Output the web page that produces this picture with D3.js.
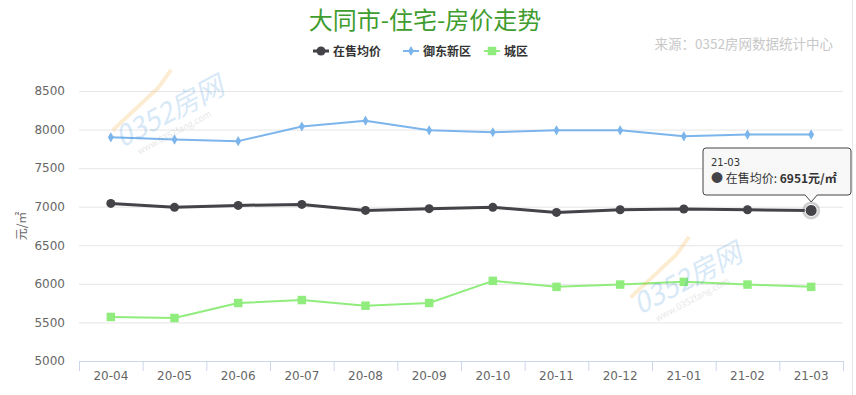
<!DOCTYPE html>
<html>
<head>
<meta charset="utf-8">
<script src="https://cdn.jsdelivr.net/npm/d3@7/dist/d3.min.js"></script>
<style>
  body { margin: 0; background: #fff; font-family: "Noto Sans CJK SC", "DejaVu Sans", sans-serif; }
  svg { display: block; }
</style>
</head>
<body>
<svg id="chart" width="856" height="395"></svg>
<script>
const months = ['20-04', '20-05', '20-06', '20-07', '20-08', '20-09', '20-10', '20-11', '20-12', '21-01', '21-02', '21-03'];
const avgPrice = [7043, 6992, 7017, 7030, 6952, 6975, 6992, 6926, 6960, 6970, 6961, 6951];
const yudongPrice = [7900, 7870, 7850, 8040, 8115, 7990, 7965, 7990, 7990, 7913, 7935, 7935];
const cityPrice = [5571, 5557, 5752, 5790, 5717, 5752, 6039, 5961, 5991, 6026, 5991, 5961];
const yTicks = [5000, 5500, 6000, 6500, 7000, 7500, 8000, 8500];

const series = [
  { name: '在售均价', values: avgPrice, color: '#434348', width: 3, symbol: 'circle' },
  { name: '御东新区', values: yudongPrice, color: '#7cb5ec', width: 2, symbol: 'diamond' },
  { name: '城区', values: cityPrice, color: '#90ed7d', width: 2, symbol: 'square' }
];

const margin = { top: 91, right: 13, bottom: 34, left: 79 };
const W = 856, H = 395;
const width = W - margin.left - margin.right;
const height = H - margin.top - margin.bottom;

const svg = d3.select('#chart');

// border on the right
svg.append('line')
  .attr('x1', 852.5).attr('x2', 852.5).attr('y1', 0).attr('y2', H)
  .attr('stroke', '#e6e6e6');

// title
svg.append('text')
  .attr('x', 425).attr('y', 29)
  .attr('text-anchor', 'middle')
  .attr('font-size', 24)
  .attr('fill', '#3f9d30')
  .text('大同市-住宅-房价走势');

svg.append('text')
  .attr('x', 833).attr('y', 49)
  .attr('text-anchor', 'end')
  .attr('font-size', 13.5)
  .attr('fill', '#c8c8c8')
  .text('来源：0352房网数据统计中心');

const g = svg.append('g').attr('transform', `translate(${margin.left},${margin.top})`);

const x = d3.scaleBand().domain(months).range([0, width]);
const y = d3.scaleLinear().domain([5000, 8500]).range([height, 0]);
const cx = (d) => x(d) + x.bandwidth() / 2;

// watermarks
const wm = [[122, 148], [640, 315]];
wm.forEach(([wx, wy]) => {
  const w = svg.append('g').attr('transform', `translate(${wx},${wy}) rotate(-28)`).attr('opacity', 0.2);
  w.append('text').attr('font-size', 28).attr('font-style', 'italic').attr('fill', '#3b8fd8').text('0352房网');
  w.append('text').attr('y', 14).attr('x', 12).attr('font-size', 9).attr('fill', '#888').text('www.0352fang.com');
  w.append('path').attr('d', 'M0,-20 L60,-36 L80,-46').attr('fill', 'none').attr('stroke', '#f5a623').attr('stroke-width', 4);
});

// grid
g.append('g')
  .call(d3.axisLeft(y).tickValues(yTicks).tickSize(-width).tickFormat(''))
  .call((s) => s.select('.domain').remove())
  .call((s) => s.selectAll('line').attr('stroke', '#e6e6e6'));

// y labels
g.append('g')
  .call(d3.axisLeft(y).tickValues(yTicks).tickSize(0).tickPadding(14).tickFormat(d3.format('d')))
  .call((s) => s.select('.domain').remove())
  .call((s) => s.selectAll('text').attr('font-size', 12).attr('fill', '#666').attr('font-family', 'DejaVu Sans, sans-serif'));

// y title
svg.append('text')
  .attr('transform', 'translate(26,226) rotate(-90)')
  .attr('text-anchor', 'middle')
  .attr('font-size', 12)
  .attr('fill', '#666')
  .text('元/㎡');

// x axis
const xAxis = g.append('g')
  .attr('transform', `translate(0,${height})`)
  .call(d3.axisBottom(x).tickSize(0).tickPadding(10));
xAxis.select('.domain').attr('stroke', '#ccd6eb');
xAxis.selectAll('text').attr('font-size', 12).attr('fill', '#666').attr('font-family', 'DejaVu Sans, sans-serif');
xAxis.selectAll('.sep')
  .data(d3.range(months.length + 1))
  .enter().append('line')
  .attr('x1', (i) => i * x.step() + 0.5).attr('x2', (i) => i * x.step() + 0.5)
  .attr('y1', 0).attr('y2', 10)
  .attr('stroke', '#ccd6eb');

// lines
const line = d3.line()
  .x((d, i) => cx(months[i]))
  .y((d) => y(d));

const symbols = { circle: d3.symbolCircle, diamond: d3.symbolDiamond, square: d3.symbolSquare };
const symSize = { circle: 64, diamond: 30, square: 72 };

series.forEach((s) => {
  g.append('path')
    .datum(s.values)
    .attr('fill', 'none')
    .attr('stroke', s.color)
    .attr('stroke-width', s.width)
    .attr('stroke-linejoin', 'round')
    .attr('d', line);
  g.selectAll(null)
    .data(s.values)
    .enter().append('path')
    .attr('transform', (d, i) => `translate(${cx(months[i])},${y(d)})`)
    .attr('d', d3.symbol().type(symbols[s.symbol]).size(symSize[s.symbol]))
    .attr('fill', s.color);
});

// hovered point
const last = months.length - 1;
const hx = cx(months[last]), hy = y(avgPrice[last]);
g.append('circle').attr('cx', hx).attr('cy', hy).attr('r', 9).attr('fill', '#434348').attr('opacity', 0.25);
g.append('circle').attr('cx', hx).attr('cy', hy).attr('r', 6).attr('fill', '#434348').attr('stroke', '#fff').attr('stroke-width', 1);

// tooltip
const tx = margin.left + hx;
const bx = 703, by = 148, bw = 148, bh = 47;
const tip = svg.append('g');
tip.append('path')
  .attr('d', `M${bx + 3},${by} H${bx + bw - 3} Q${bx + bw},${by} ${bx + bw},${by + 3} V${by + bh - 3} Q${bx + bw},${by + bh} ${bx + bw - 3},${by + bh} H${tx + 6} L${tx},${by + bh + 7} L${tx - 6},${by + bh} H${bx + 3} Q${bx},${by + bh} ${bx},${by + bh - 3} V${by + 3} Q${bx},${by} ${bx + 3},${by} Z`)
  .attr('fill', 'rgba(247,247,247,0.9)')
  .attr('stroke', '#434348')
  .attr('stroke-width', 1);
tip.append('text').attr('x', bx + 8).attr('y', by + 18).attr('font-size', 10).attr('fill', '#333')
  .attr('font-family', 'DejaVu Sans, sans-serif').text(months[last]);
const t2 = tip.append('text').attr('x', bx + 8).attr('y', by + 35).attr('font-size', 12).attr('fill', '#333');
t2.append('tspan').attr('fill', '#434348').text('● ');
t2.append('tspan').text('在售均价: ');
t2.append('tspan').attr('font-weight', 'bold').text(avgPrice[last] + '元/㎡');

// legend
const legendX = [313, 403, 484];
series.forEach((s, i) => {
  const lg = svg.append('g').attr('transform', `translate(${legendX[i]},51)`);
  lg.append('line').attr('x1', 0).attr('x2', 16).attr('stroke', s.color).attr('stroke-width', s.width);
  lg.append('path').attr('transform', 'translate(8,0)')
    .attr('d', d3.symbol().type(symbols[s.symbol]).size(symSize[s.symbol]))
    .attr('fill', s.color);
  lg.append('text').attr('x', 20).attr('y', 5).attr('font-size', 12).attr('font-weight', 'bold').attr('fill', '#333').text(s.name);
});
</script>
</body>
</html>
